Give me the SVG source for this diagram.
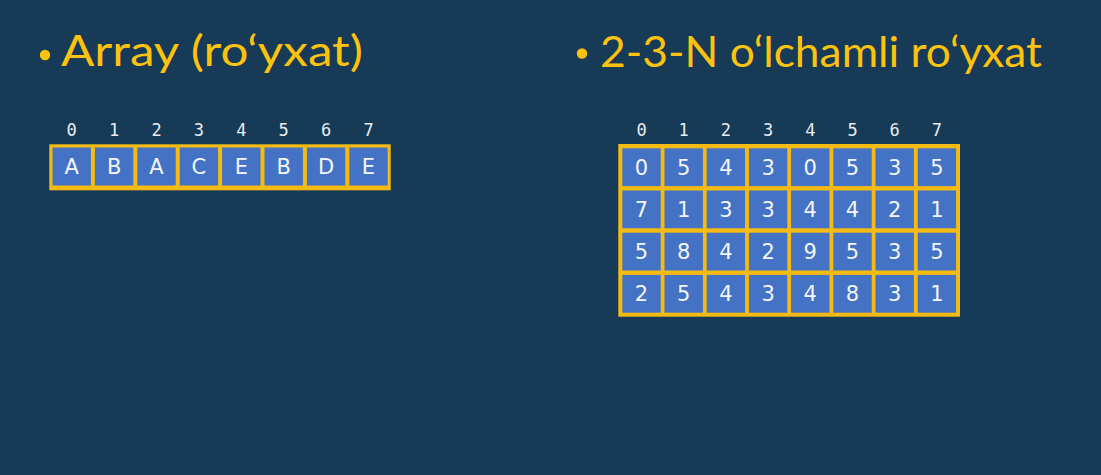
<svg xmlns="http://www.w3.org/2000/svg" width="1101" height="475" viewBox="0 0 1101 475">
<style>
.bg{fill:#173a57}
.title{font-family:Lato,"Open Sans",sans-serif;font-size:42px;fill:#fcc20e}
.bullet{fill:#fcc20e}
.idx{font-family:"DejaVu Sans Mono",monospace;font-size:17px;fill:#e8ecf0;text-anchor:middle}
.frame{fill:#f6bb12}
.cell{fill:#4472c4}
.ct{font-family:"DejaVu Sans",sans-serif;font-size:21px;fill:#f4f6fa;text-anchor:middle}
</style>
<rect class="bg" x="0" y="0" width="1101" height="475"/>
<g id="title-left">
<circle class="bullet" cx="45" cy="55" r="5.2"/>
<text class="title" x="61" y="66" textLength="302" lengthAdjust="spacingAndGlyphs">Array (ro‘yxat)</text>
</g>
<g id="title-right">
<circle class="bullet" cx="582" cy="53.5" r="5.2"/>
<text class="title" x="600" y="66.5" textLength="442" lengthAdjust="spacingAndGlyphs">2-3-N o‘lchamli ro‘yxat</text>
</g>
<g id="array-1d">
<g class="idx">
<text x="71.7" y="136">0</text><text x="114.1" y="136">1</text><text x="156.5" y="136">2</text><text x="198.9" y="136">3</text><text x="241.3" y="136">4</text><text x="283.7" y="136">5</text><text x="326.1" y="136">6</text><text x="368.5" y="136">7</text>
</g>
<rect class="frame" x="49.3" y="144.3" width="341.4" height="46"/>
<g class="cell">
<rect x="52.5" y="147.5" width="38.4" height="38"/><rect x="94.9" y="147.5" width="38.4" height="38"/><rect x="137.3" y="147.5" width="38.4" height="38"/><rect x="179.7" y="147.5" width="38.4" height="38"/><rect x="222.1" y="147.5" width="38.4" height="38"/><rect x="264.5" y="147.5" width="38.4" height="38"/><rect x="306.9" y="147.5" width="38.4" height="38"/><rect x="349.3" y="147.5" width="38.4" height="38"/>
</g>
<g class="ct">
<text x="71.7" y="174">A</text><text x="114.1" y="174">B</text><text x="156.5" y="174">A</text><text x="198.9" y="174">C</text><text x="241.3" y="174">E</text><text x="283.7" y="174">B</text><text x="326.1" y="174">D</text><text x="368.5" y="174">E</text>
</g>
</g>
<g id="array-2d">
<g class="idx">
<text x="641.5" y="136">0</text><text x="683.7" y="136">1</text><text x="725.9" y="136">2</text><text x="768.1" y="136">3</text><text x="810.3" y="136">4</text><text x="852.5" y="136">5</text><text x="894.7" y="136">6</text><text x="936.9" y="136">7</text>
</g>
<rect class="frame" x="618.3" y="144" width="341.7" height="172.7"/>
<g class="cell">
<rect x="622.3" y="148.3" width="38.4" height="37.8"/><rect x="664.5" y="148.3" width="38.4" height="37.8"/><rect x="706.7" y="148.3" width="38.4" height="37.8"/><rect x="748.9" y="148.3" width="38.4" height="37.8"/><rect x="791.1" y="148.3" width="38.4" height="37.8"/><rect x="833.3" y="148.3" width="38.4" height="37.8"/><rect x="875.5" y="148.3" width="38.4" height="37.8"/><rect x="917.7" y="148.3" width="38.4" height="37.8"/>
<rect x="622.3" y="190.5" width="38.4" height="37.8"/><rect x="664.5" y="190.5" width="38.4" height="37.8"/><rect x="706.7" y="190.5" width="38.4" height="37.8"/><rect x="748.9" y="190.5" width="38.4" height="37.8"/><rect x="791.1" y="190.5" width="38.4" height="37.8"/><rect x="833.3" y="190.5" width="38.4" height="37.8"/><rect x="875.5" y="190.5" width="38.4" height="37.8"/><rect x="917.7" y="190.5" width="38.4" height="37.8"/>
<rect x="622.3" y="232.7" width="38.4" height="37.8"/><rect x="664.5" y="232.7" width="38.4" height="37.8"/><rect x="706.7" y="232.7" width="38.4" height="37.8"/><rect x="748.9" y="232.7" width="38.4" height="37.8"/><rect x="791.1" y="232.7" width="38.4" height="37.8"/><rect x="833.3" y="232.7" width="38.4" height="37.8"/><rect x="875.5" y="232.7" width="38.4" height="37.8"/><rect x="917.7" y="232.7" width="38.4" height="37.8"/>
<rect x="622.3" y="274.9" width="38.4" height="37.8"/><rect x="664.5" y="274.9" width="38.4" height="37.8"/><rect x="706.7" y="274.9" width="38.4" height="37.8"/><rect x="748.9" y="274.9" width="38.4" height="37.8"/><rect x="791.1" y="274.9" width="38.4" height="37.8"/><rect x="833.3" y="274.9" width="38.4" height="37.8"/><rect x="875.5" y="274.9" width="38.4" height="37.8"/><rect x="917.7" y="274.9" width="38.4" height="37.8"/>
</g>
<g class="ct">
<text x="641.5" y="174.5">0</text><text x="683.7" y="174.5">5</text><text x="725.9" y="174.5">4</text><text x="768.1" y="174.5">3</text><text x="810.3" y="174.5">0</text><text x="852.5" y="174.5">5</text><text x="894.7" y="174.5">3</text><text x="936.9" y="174.5">5</text>
<text x="641.5" y="216.7">7</text><text x="683.7" y="216.7">1</text><text x="725.9" y="216.7">3</text><text x="768.1" y="216.7">3</text><text x="810.3" y="216.7">4</text><text x="852.5" y="216.7">4</text><text x="894.7" y="216.7">2</text><text x="936.9" y="216.7">1</text>
<text x="641.5" y="258.9">5</text><text x="683.7" y="258.9">8</text><text x="725.9" y="258.9">4</text><text x="768.1" y="258.9">2</text><text x="810.3" y="258.9">9</text><text x="852.5" y="258.9">5</text><text x="894.7" y="258.9">3</text><text x="936.9" y="258.9">5</text>
<text x="641.5" y="301.1">2</text><text x="683.7" y="301.1">5</text><text x="725.9" y="301.1">4</text><text x="768.1" y="301.1">3</text><text x="810.3" y="301.1">4</text><text x="852.5" y="301.1">8</text><text x="894.7" y="301.1">3</text><text x="936.9" y="301.1">1</text>
</g>
</g>
</svg>
